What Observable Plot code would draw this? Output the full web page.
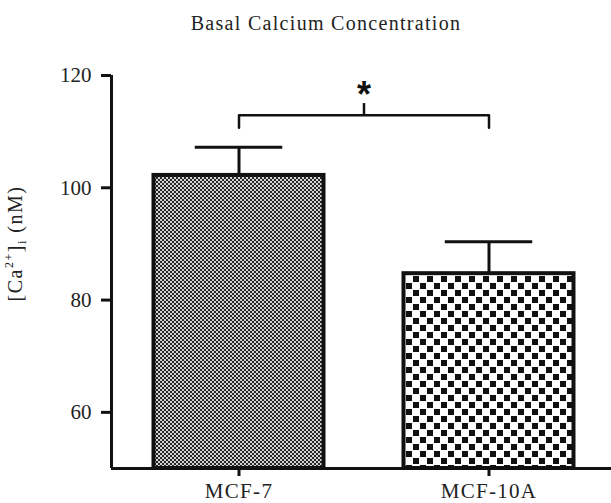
<!DOCTYPE html>
<html><head><meta charset="utf-8">
<script src="https://cdn.jsdelivr.net/npm/d3@7"></script>
<script src="https://cdn.jsdelivr.net/npm/@observablehq/plot@0.6"></script>
<style>
body{margin:0;background:#fff;}
#title{height:45px;box-sizing:border-box;padding-top:13px;padding-left:41px;width:611px;text-align:center;font-family:"Liberation Serif",serif;font-size:20px;letter-spacing:1.3px;color:#222;line-height:20px;}
</style></head><body>
<div id="title">Basal Calcium Concentration</div>
<div id="chart"></div>
<script>
const categories = ["MCF-7", "MCF-10A"];
const means = [102.2, 84.7];
const sems = [5.0, 5.7];
const yTicks = [60, 80, 100, 120];
const yDomain = [50, 120];
const bracketY = 112.9;
const bracketEndY = 110.7;
const bracketTopY = 115.0;
const sigLabel = "*";
const yLabel = "[Ca2+]i (nM)";

const data = categories.map((c, i) => ({name: c, i, mean: means[i], upper: means[i] + sems[i]}));
const xDomain = [-0.51, categories.length - 0.51];
const barHalf = 0.34, capHalf = 0.175;
const pairA = 0, pairB = 1;
const bracketPts = [
  {x: pairA, y: bracketEndY}, {x: pairA, y: bracketY},
  {x: pairB, y: bracketY}, {x: pairB, y: bracketEndY}
];
const mid = (pairA + pairB) / 2;

const defs = () => {
  const d = d3.create("svg:defs");
  const p0 = d.append("pattern").attr("id", "pat0").attr("patternUnits", "userSpaceOnUse").attr("width", 4).attr("height", 4);
  p0.append("rect").attr("width", 4).attr("height", 4).attr("fill", "#d4d4d4");
  p0.append("rect").attr("x", 0).attr("y", 0).attr("width", 2).attr("height", 2).attr("fill", "#262626");
  p0.append("rect").attr("x", 2).attr("y", 2).attr("width", 2).attr("height", 2).attr("fill", "#262626");
  const p1 = d.append("pattern").attr("id", "pat1").attr("patternUnits", "userSpaceOnUse").attr("width", 14).attr("height", 14);
  p1.append("rect").attr("width", 14).attr("height", 14).attr("fill", "#ffffff");
  p1.append("rect").attr("x", 0).attr("y", 0).attr("width", 6).attr("height", 6).attr("fill", "#111");
  p1.append("rect").attr("x", 7).attr("y", 7).attr("width", 6).attr("height", 6).attr("fill", "#111");
  return d.node();
};

// y-axis title drawn as a render-function mark, centred beside the axis
const yTitle = (index, scales, values, dims) => {
  const g = d3.create("svg:g");
  const cy = (dims.marginTop + dims.height - dims.marginBottom) / 2 - 28;
  const t = g.append("text")
    .attr("transform", `translate(${dims.marginLeft - 89},${cy}) rotate(-90)`)
    .attr("text-anchor", "middle")
    .attr("font-size", 20)
    .attr("fill", "#222")
    .style("letter-spacing", "1.5px");
  t.append("tspan").text("[Ca");
  t.append("tspan").attr("font-size", 12).attr("dy", -9).text("2+");
  t.append("tspan").attr("dy", 9).text("]");
  t.append("tspan").attr("font-size", 12).attr("dy", 4).text("i");
  t.append("tspan").attr("dy", -4).text(" (nM)");
  t.append("title").text(yLabel);
  return g.node();
};

const chart = Plot.plot({
  width: 611,
  height: 458,
  marginLeft: 111,
  marginRight: 0,
  marginTop: 30,
  marginBottom: 35,
  style: {fontFamily: "Liberation Serif, serif", fontSize: "22px", color: "#222", background: "#fff"},
  x: {type: "linear", domain: xDomain, label: null},
  y: {domain: yDomain, label: null},
  color: {type: "identity"},
  marks: [
    defs,
    Plot.rectY(data, {x1: d => d.i - barHalf, x2: d => d.i + barHalf, y1: yDomain[0], y2: "mean",
      fill: d => `url(#pat${d.i})`, stroke: "#111", strokeWidth: 4}),
    Plot.ruleX(data, {x: "i", y1: "mean", y2: "upper", stroke: "#111", strokeWidth: 3}),
    Plot.ruleY(data, {y: "upper", x1: d => d.i - capHalf, x2: d => d.i + capHalf, stroke: "#111", strokeWidth: 3}),
    Plot.line(bracketPts, {x: "x", y: "y", stroke: "#111", strokeWidth: 2.5}),
    Plot.ruleX([mid], {x: d => d, y1: bracketY, y2: bracketTopY, stroke: "#111", strokeWidth: 2.5}),
    Plot.text([sigLabel], {x: mid, y: bracketTopY, text: d => d, fontSize: 36, fontWeight: "bold", fontFamily: "Liberation Sans, sans-serif", lineAnchor: "middle", dy: -8, fill: "#111"}),
    Plot.ruleY([yDomain[0]], {stroke: "#111", strokeWidth: 3}),
    Plot.ruleX([xDomain[0]], {stroke: "#111", strokeWidth: 3}),
    Plot.axisY({ticks: yTicks, tickSize: 10, tickPadding: 10, strokeWidth: 3, stroke: "#111", fontSize: 22, label: null}),
    Plot.axisX({ticks: categories.map((c, i) => i), tickFormat: i => categories[i], tickSize: 8, tickPadding: 7, strokeWidth: 3, stroke: "#111", fontSize: 22, label: null}),
    yTitle
  ]
});

document.getElementById("chart").appendChild(chart);

// make sure tick labels use the intended size
d3.select(chart).selectAll('g[aria-label$="tick label"]').attr("font-size", 21).style("font-size", "21px");
d3.select(chart).selectAll("text").filter(function() { return categories.includes(this.textContent); })
  .style("letter-spacing", "1.3px");
</script>
</body></html>
